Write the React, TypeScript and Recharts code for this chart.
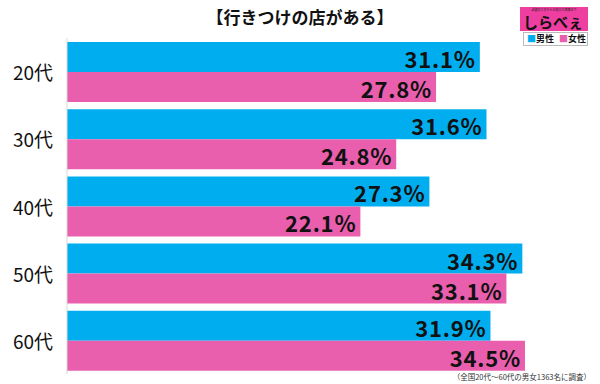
import React from "react";
import { BarChart, Bar, XAxis, YAxis, LabelList } from "recharts";

const categories = ["20代", "30代", "40代", "50代", "60代"];
const male = [31.1, 31.6, 27.3, 34.3, 31.9];
const female = [27.8, 24.8, 22.1, 33.1, 34.5];
const seriesNames = ["男性", "女性"];
const title = "【行きつけの店がある】";
const footnote = "（全国20代～60代の男女1363名に調査）";

const data = categories.map((c, i) => ({ name: c, male: male[i], female: female[i] }));

const BLUE = "#00aeef";
const PINK = "#e95fae";
const FONT = "'Noto Sans CJK JP', 'Noto Sans', sans-serif";

const ValueLabel = (props: any) => {
  const { x, y, width, height, value } = props;
  return (
    <text
      x={x + width - 4}
      y={y + height / 2 + 1}
      textAnchor="end"
      dominantBaseline="central"
      fontFamily={FONT}
      fontWeight={700}
      fontSize={22}
      letterSpacing={0.8}
      fill="#111"
    >
      {value.toFixed(1)}%
    </text>
  );
};

const YTick = (props: any) => {
  const { y, payload } = props;
  return (
    <text x={33} y={y} textAnchor="middle" dominantBaseline="central" fontFamily={FONT} fontSize={19} fill="#111">
      {payload.value}
    </text>
  );
};

export default function App() {
  return (
    <div style={{ position: "absolute", left: 0, top: 0, width: 600, height: 384, background: "#fff", fontFamily: FONT }}>
      <BarChart
        width={600}
        height={384}
        data={data}
        layout="vertical"
        margin={{ top: 38, right: 2, bottom: 10, left: 0 }}
        barCategoryGap={4}
        barGap={0}
      >
        <XAxis type="number" domain={[0, 40]} hide />
        <YAxis
          type="category"
          dataKey="name"
          width={67}
          axisLine={{ stroke: "#d9d9d9" }}
          tickLine={false}
          tick={<YTick />}
        />
        <Bar dataKey="male" name={seriesNames[0]} fill={BLUE} isAnimationActive={false}>
          <LabelList dataKey="male" content={<ValueLabel />} />
        </Bar>
        <Bar dataKey="female" name={seriesNames[1]} fill={PINK} isAnimationActive={false}>
          <LabelList dataKey="female" content={<ValueLabel />} />
        </Bar>
      </BarChart>
      <div style={{ position: "absolute", left: 0, width: 600, top: 6, textAlign: "center", fontSize: 17, fontWeight: 700, color: "#111", lineHeight: "22px" }}>
        {title}
      </div>
      <div style={{ position: "absolute", left: 520, top: 7, width: 68, height: 24, background: "#ee3ea0" }}>
        <div style={{ position: "absolute", left: 0, top: 1, width: 68, textAlign: "center", fontSize: 3, color: "#222", lineHeight: "4px" }}>話題のネタからお役立ち情報まで</div>
        <div style={{ position: "absolute", left: 3, top: 7, fontSize: 15, fontWeight: 700, color: "#111", lineHeight: "16px", whiteSpace: "nowrap" }}>
          しらべぇ
        </div>
      </div>
      <div style={{ position: "absolute", left: 523, top: 32, width: 63, height: 12, border: "1px solid #bbb", background: "#fff", fontSize: 9, fontWeight: 700, lineHeight: "12px", whiteSpace: "nowrap", color: "#111" }}>
        <span style={{ color: BLUE, marginLeft: 3 }}>■</span>{seriesNames[0]}
        <span style={{ color: PINK, marginLeft: 5 }}>■</span>{seriesNames[1]}
      </div>
      <div style={{ position: "absolute", right: 9, top: 372, fontSize: 7.5, color: "#333", lineHeight: "10px", whiteSpace: "nowrap" }}>
        {footnote}
      </div>
    </div>
  );
}
